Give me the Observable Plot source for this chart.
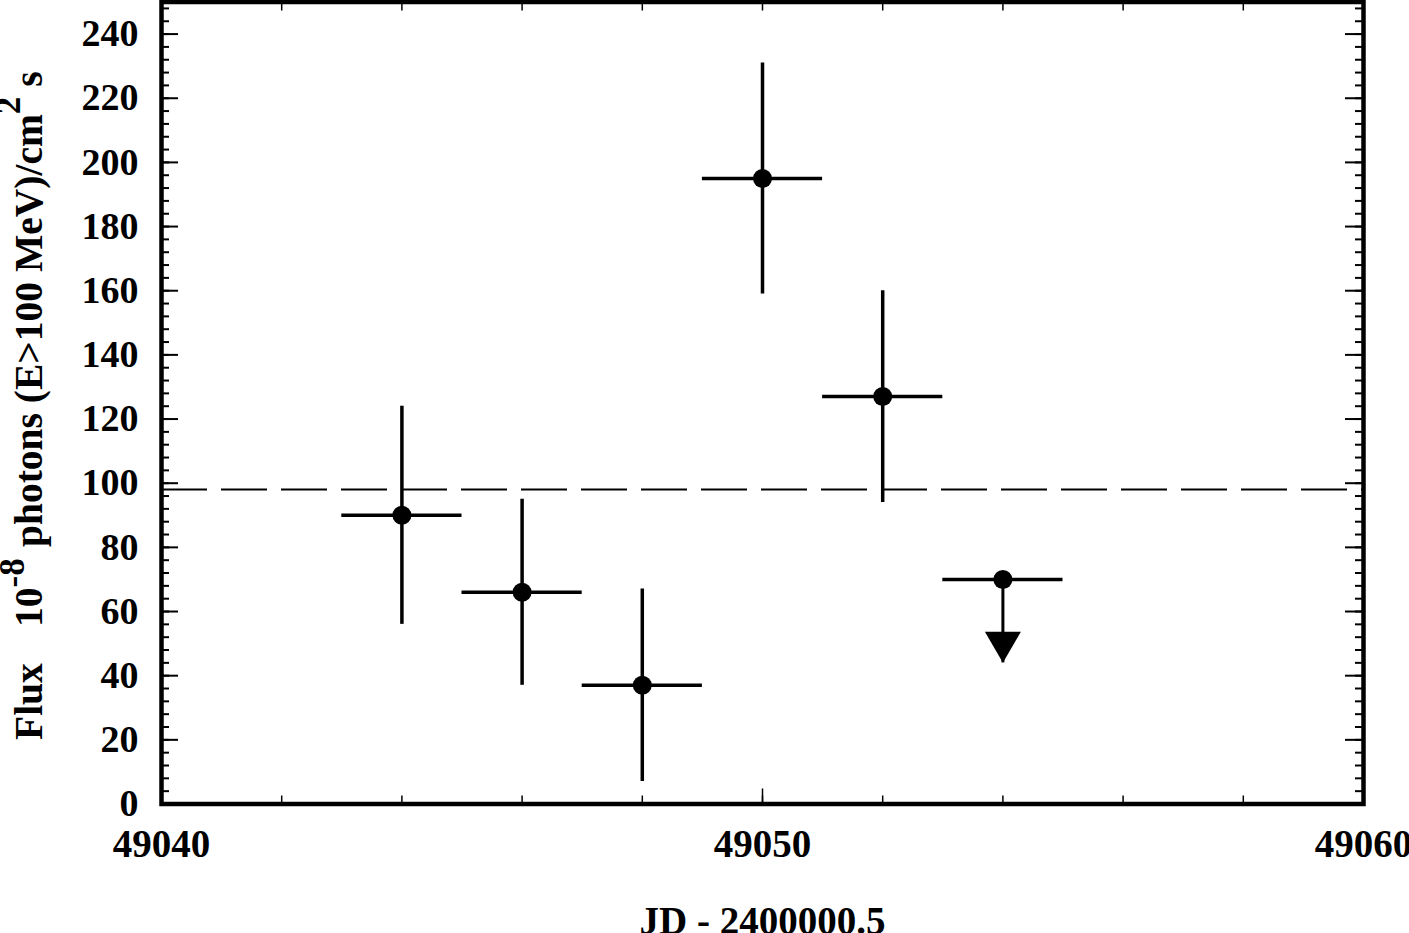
<!DOCTYPE html>
<html><head><meta charset="utf-8">
<script src="https://cdn.jsdelivr.net/npm/d3@7"></script>
<script src="https://cdn.jsdelivr.net/npm/@observablehq/plot@0.6"></script>
<style>body{margin:0;background:#fff}</style>
</head><body><div id="chart"></div>
<script>
// Detections: bin centre (JD - 2400000.5), bin edges, flux and 1-sigma range (1e-8 ph/cm^2/s)
const binCenter = [49044, 49046, 49048, 49050, 49052];
const binStart  = [49043, 49045, 49047, 49049, 49051];
const binEnd    = [49045, 49047, 49049, 49051, 49053];
const flux      = [90, 66, 37, 195, 127];
const fluxLow   = [56, 37, 7, 159, 94];
const fluxHigh  = [124, 95, 67, 231, 160];
// Upper limit
const ulCenter = [49054];
const ulStart  = [49053];
const ulEnd    = [49055];
const ulFlux   = [70];
const ulTip    = [44];
// Mean flux (dashed line)
const meanFlux = [98];
// Ticks
const xMajor = [49040, 49050, 49060];
const xMinor = [49040, 49042, 49044, 49046, 49048, 49050, 49052, 49054, 49056, 49058, 49060];
const yMajor = [0, 20, 40, 60, 80, 100, 120, 140, 160, 180, 200, 220, 240];
const yMinor = d3.range(0, 251, 4);

const pts = binCenter.map((x, i) => ({x, x1: binStart[i], x2: binEnd[i], y: flux[i], lo: fluxLow[i], hi: fluxHigh[i]}));
const ul = ulCenter.map((x, i) => ({x, x1: ulStart[i], x2: ulEnd[i], y: ulFlux[i], tip: ulTip[i]}));

const downTriangle = {draw(ctx) { ctx.moveTo(0, 0); ctx.lineTo(-18, -31); ctx.lineTo(18, -31); ctx.closePath(); }};

const FONT = "'Liberation Serif', 'Times New Roman', Times, serif";

const chart = Plot.plot({
  width: 1409,
  height: 933,
  marginLeft: 161,
  marginRight: 46,
  marginTop: 1.5,
  marginBottom: 129.5,
  style: {fontFamily: FONT, fontWeight: "bold", background: "white", color: "black"},
  x: {domain: [49040, 49060]},
  y: {domain: [0, 250]},
  marks: [
    Plot.ruleY(meanFlux, {strokeWidth: 2, strokeDasharray: "46,14"}),
    Plot.ruleX(pts, {x: "x", y1: "lo", y2: "hi", strokeWidth: 3.5}),
    Plot.ruleY(pts, {y: "y", x1: "x1", x2: "x2", strokeWidth: 3.5}),
    Plot.dot(pts, {x: "x", y: "y", r: 9.5, fill: "black", stroke: "none"}),
    Plot.ruleY(ul, {y: "y", x1: "x1", x2: "x2", strokeWidth: 3.5}),
    Plot.ruleX(ul, {x: "x", y1: "y", y2: "tip", strokeWidth: 3}),
    Plot.dot(ul, {x: "x", y: "y", r: 9.5, fill: "black", stroke: "none"}),
    Plot.dot(ul, {x: "x", y: "tip", symbol: downTriangle, fill: "black", stroke: "none"}),
    // inward ticks
    Plot.axisY(yMinor, {anchor: "left", tickSize: -8, strokeWidth: 2, fill: "none"}),
    Plot.axisY(yMajor, {anchor: "left", tickSize: -17, strokeWidth: 2, fill: "none"}),
    Plot.axisY(yMinor, {anchor: "right", tickSize: -9, strokeWidth: 2, fill: "none"}),
    Plot.axisY(yMajor, {anchor: "right", tickSize: -19, strokeWidth: 2, fill: "none"}),
    Plot.axisX(xMinor, {anchor: "bottom", tickSize: -8, strokeWidth: 1.5, fill: "none"}),
    Plot.axisX(xMajor, {anchor: "bottom", tickSize: -15, strokeWidth: 1.5, fill: "none"}),
    Plot.axisX(xMinor, {anchor: "top", tickSize: -8, strokeWidth: 1.5, fill: "none"}),
    // tick labels
    Plot.axisY(yMajor, {anchor: "left", tickSize: 0, tickPadding: 23, fontSize: 38, tickFormat: d3.format("d"), label: null}),
    Plot.axisX(xMajor, {anchor: "bottom", tickSize: 0, tickPadding: 25, fontSize: 39, tickFormat: d3.format("d"),
      label: "JD - 2400000.5", labelAnchor: "center", labelArrow: "none", labelOffset: 130}),
    Plot.frame({strokeWidth: 4.5})
  ]
});

// y-axis title with superscripts
const svg = d3.select(chart);
const t = svg.append("text")
  .attr("transform", "translate(42,740) rotate(-90)")
  .attr("text-anchor", "start")
  .attr("font-family", FONT).attr("font-weight", "bold").attr("font-size", 39.5)
  .attr("fill", "black");
t.append("tspan").attr("x", 0).text("Flux");
t.append("tspan").attr("x", 113).text("10");
t.append("tspan").attr("dy", -18).attr("font-size", 35).text("-8");
t.append("tspan").attr("x", 193).attr("dy", 18).text("photons (E>100 MeV)/cm");
t.append("tspan").attr("dy", -22).attr("font-size", 35).text("2");
t.append("tspan").attr("dy", 22).text(" s");

document.getElementById("chart").appendChild(chart);
</script>
</body></html>
